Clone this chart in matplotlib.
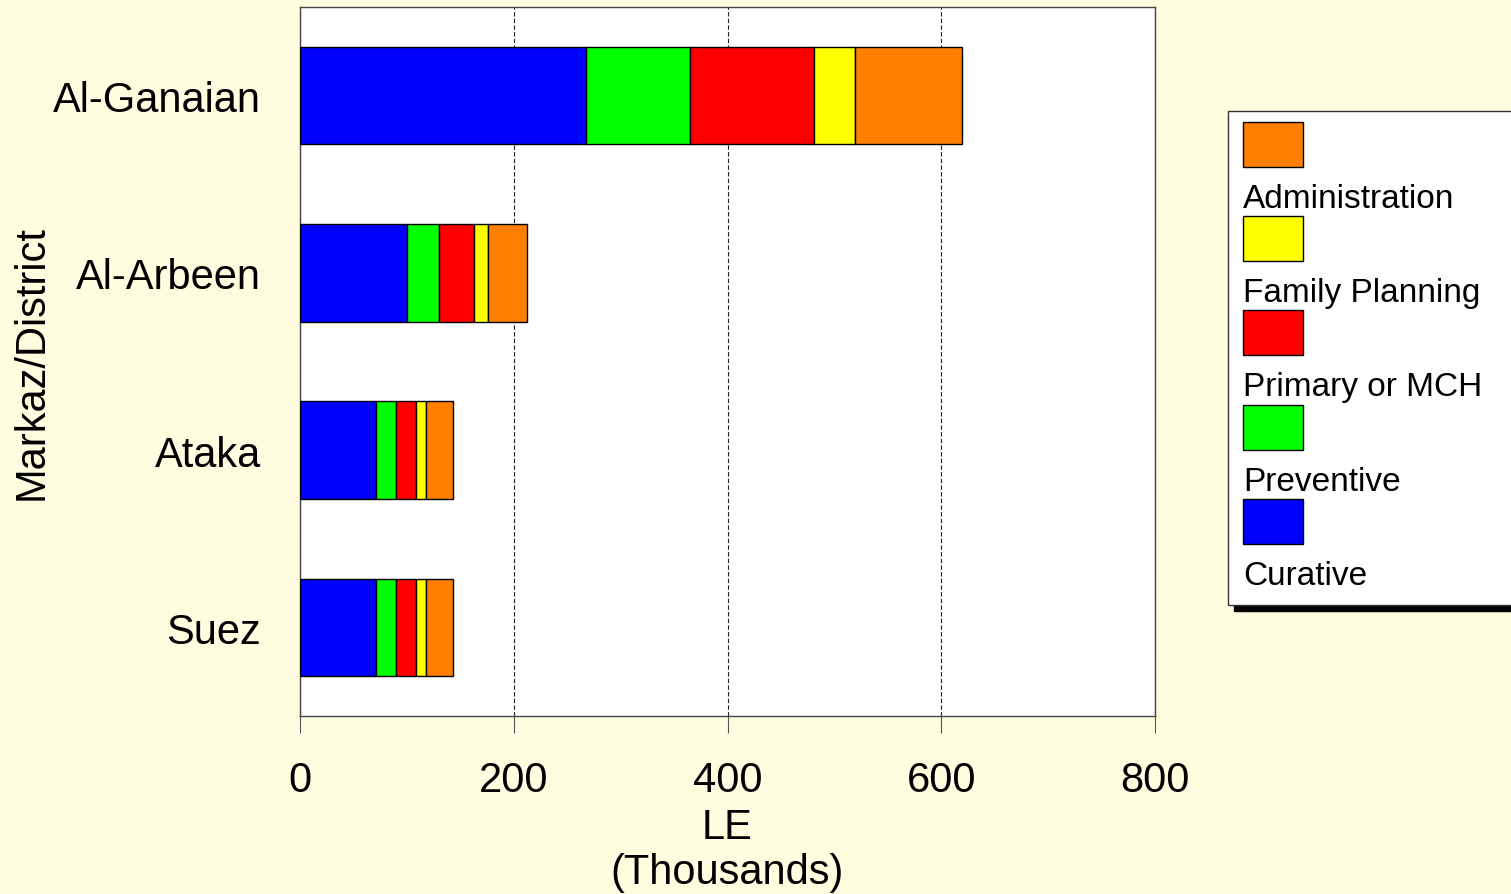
import matplotlib
matplotlib.use('Agg')
import matplotlib.pyplot as plt
from matplotlib.patches import Rectangle

plt.rcParams['font.family'] = ['Liberation Sans', 'DejaVu Sans']

# Data (LE thousands)
districts = ['Al-Ganaian', 'Al-Arbeen', 'Ataka', 'Suez']
curative = [268, 100, 71, 71]
preventive = [97, 30, 19, 19]
primary_mch = [116, 33, 19, 19]
family_planning = [38, 13, 8.5, 8.5]
administration = [100, 36, 26, 26]

series = [
    ('Curative', curative, '#0000FF'),
    ('Preventive', preventive, '#00FF00'),
    ('Primary or MCH', primary_mch, '#FF0000'),
    ('Family Planning', family_planning, '#FFFF00'),
    ('Administration', administration, '#FF8000'),
]

bg = '#FFFDE0'
W, H = 1511, 895
fig = plt.figure(figsize=(W / 100, H / 100), dpi=100, facecolor=bg)

# main axes in pixel coordinates
left, right, top, bottom = 300, 1155, 8, 717
ax = fig.add_axes([left / W, 1 - bottom / H, (right - left) / W, (bottom - top) / H])
ax.set_facecolor('white')

ypos = list(range(len(districts)))
base = [0] * len(districts)
for name, vals, col in series:
    ax.barh(ypos, vals, left=base, height=0.55, color=col,
            edgecolor='black', linewidth=1, zorder=3)
    base = [b + v for b, v in zip(base, vals)]

ax.set_xlim(0, 800)
ax.set_ylim(len(districts) - 0.5, -0.5)
ax.set_xticks([0, 200, 400, 600, 800])
ax.set_yticks(ypos)
ax.set_yticklabels(districts, fontsize=30)
ax.tick_params(axis='y', length=0, pad=28)
ax.tick_params(axis='x', direction='out', length=12, width=0.8, color='#555555',
               labelsize=30, pad=20)
ax.grid(axis='x', linestyle=(0, (4, 2)), color='#222222', linewidth=0.8, zorder=1)
for s in ax.spines.values():
    s.set_color('#444444')
    s.set_linewidth(1)

ax.set_xlabel('LE\n(Thousands)', fontsize=30, linespacing=1.15, labelpad=5)
ax.set_ylabel('Markaz/District', fontsize=30)
ax.yaxis.set_label_coords(-0.29, 0.5)

# legend drawn as its own panel: swatch above label
lx0, ly0, lx1, ly1 = 1228, 112, 1516, 606
lax = fig.add_axes([0, 0, 1, 1], facecolor='none')
lax.set_xlim(0, W)
lax.set_ylim(H, 0)
lax.axis('off')
lax.add_patch(Rectangle((lx0 + 6, ly1), lx1 - lx0, 6, color='black', zorder=1))
lax.add_patch(Rectangle((lx0, ly0), lx1 - lx0, ly1 - ly0, facecolor='white',
                        edgecolor='#333333', linewidth=1, zorder=2))
for i, (name, vals, col) in enumerate(reversed(series)):
    y = 123 + i * 94.2
    lax.add_patch(Rectangle((1243, y), 60, 45, facecolor=col,
                            edgecolor='black', linewidth=1, zorder=3))
    lax.text(1243, y + 61, name, fontsize=24, va='top', ha='left', zorder=3)

fig.savefig('out.png', dpi=100, facecolor=bg)
